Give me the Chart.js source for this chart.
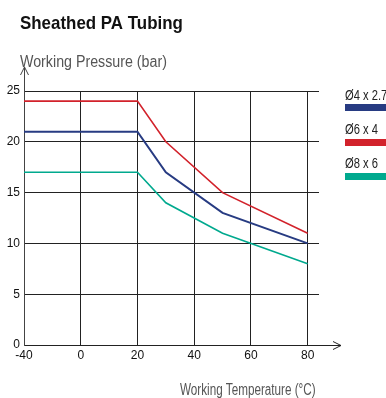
<!DOCTYPE html>
<html>
<head>
<meta charset="utf-8">
<script src="https://cdn.jsdelivr.net/npm/chart.js@4/dist/chart.umd.min.js"></script>
<style>
  html, body { margin: 0; padding: 0; background: #fff; }
  #wrap { position: relative; width: 386px; height: 398px; }
</style>
</head>
<body>
<div id="wrap"><canvas id="c" width="386" height="398"></canvas></div>
<script>
// ---- data ----
const temperatures = [-40, 20, 30, 50, 80];
const tubeNames = ['Ø4 x 2.7', 'Ø6 x 4', 'Ø8 x 6'];
const pressureD4 = [21, 21, 17, 13, 10];
const pressureD6 = [24, 24, 20, 15, 11];
const pressureD8 = [17, 17, 14, 11, 8];
const xTickLabels = ['-40', '0', '20', '40', '60', '80'];
const yTickValues = [0, 5, 10, 15, 20, 25];
const titleText = 'Sheathed PA Tubing';
const yAxisTitle = 'Working Pressure (bar)';
const xAxisTitle = 'Working Temperature (°C)';

// The x axis is drawn with evenly spaced ticks: -40 sits one step (20) left of 0.
const xTickPositions = [-20, 0, 20, 40, 60, 80];
function tempToPos(t) { return t < 0 ? t / 2 : t; }
function series(values) { return temperatures.map((t, i) => ({ x: tempToPos(t), y: values[i] })); }

const colors = ['#273b82', '#d2222b', '#00a98e'];
const widths = [2, 1.6, 1.6];
const seriesValues = [pressureD4, pressureD6, pressureD8];

const regular = '"Liberation Sans", Arial, sans-serif';

// draw text horizontally condensed (the reference uses a condensed face)
function condText(ctx, text, x, y, font, squeeze) {
  ctx.save();
  ctx.font = font;
  ctx.translate(x, y);
  ctx.scale(squeeze, 1);
  ctx.fillText(text, 0, 0);
  ctx.restore();
}

const decor = {
  id: 'decor',
  afterDraw(chart) {
    const ctx = chart.ctx;
    const a = chart.chartArea;
    ctx.save();
    ctx.textAlign = 'left';
    ctx.textBaseline = 'alphabetic';
    // title
    ctx.fillStyle = '#111';
    condText(ctx, titleText, 20, 29, 'bold 19px ' + regular, 0.89);
    // y axis title
    ctx.fillStyle = '#555';
    condText(ctx, yAxisTitle, 20, 67, '16px ' + regular, 0.89);
    // x axis title
    condText(ctx, xAxisTitle, 180, 395, '16px ' + regular, 0.73);

    // axis extensions with arrows
    ctx.strokeStyle = '#222';
    ctx.lineWidth = 1;
    const yb = Math.round(a.bottom) + 0.5;
    ctx.beginPath();
    ctx.moveTo(a.right, yb); ctx.lineTo(341, yb);
    ctx.moveTo(333, yb - 4); ctx.lineTo(341, yb); ctx.lineTo(333, yb + 4);
    ctx.stroke();
    const xl = Math.round(a.left) + 0.5;
    ctx.strokeStyle = '#444';
    ctx.beginPath();
    ctx.moveTo(xl, a.top); ctx.lineTo(xl, 67);
    ctx.moveTo(xl - 4, 75); ctx.lineTo(xl, 67); ctx.lineTo(xl + 4, 75);
    ctx.stroke();

    // legend
    const textBase = [100, 134, 168];
    const barTops = [104, 139, 173];
    for (let i = 0; i < tubeNames.length; i++) {
      ctx.fillStyle = '#222';
      condText(ctx, tubeNames[i], 345, textBase[i], '14px ' + regular, 0.8);
      ctx.fillStyle = colors[i];
      ctx.fillRect(345, barTops[i], 41, 7);
    }
    ctx.restore();
  }
};

new Chart(document.getElementById('c'), {
  type: 'line',
  data: {
    datasets: seriesValues.map((v, i) => ({
      label: tubeNames[i],
      data: series(v),
      borderColor: colors[i],
      borderWidth: widths[i],
      pointRadius: 0,
      tension: 0,
      fill: false
    }))
  },
  options: {
    responsive: false,
    animation: false,
    devicePixelRatio: 1,
    layout: { padding: { left: 0, top: 91, right: 67, bottom: 33 } },
    plugins: { legend: { display: false }, title: { display: false }, tooltip: { enabled: false } },
    scales: {
      x: {
        type: 'linear',
        min: -20,
        max: 84,
        afterBuildTicks: s => { s.ticks = xTickPositions.map(v => ({ value: v })); },
        afterFit: s => { s.height = 20; },
        ticks: {
          callback: (v) => xTickLabels[xTickPositions.indexOf(v)],
          font: { family: regular, size: 12 },
          color: '#111',
          padding: 3,
          maxRotation: 0,
          autoSkip: false
        },
        grid: { color: '#222', lineWidth: 1, drawTicks: false },
        border: { color: '#222', width: 1 }
      },
      y: {
        min: 0,
        max: 25,
        afterBuildTicks: s => { s.ticks = yTickValues.map(v => ({ value: v })); },
        afterFit: s => { s.width = 24; },
        ticks: {
          font: { family: regular, size: 12 },
          color: '#111',
          padding: 4
        },
        grid: { color: '#222', lineWidth: 1, drawTicks: false },
        border: { color: '#444', width: 1 }
      }
    }
  },
  plugins: [decor]
});
</script>
</body>
</html>
